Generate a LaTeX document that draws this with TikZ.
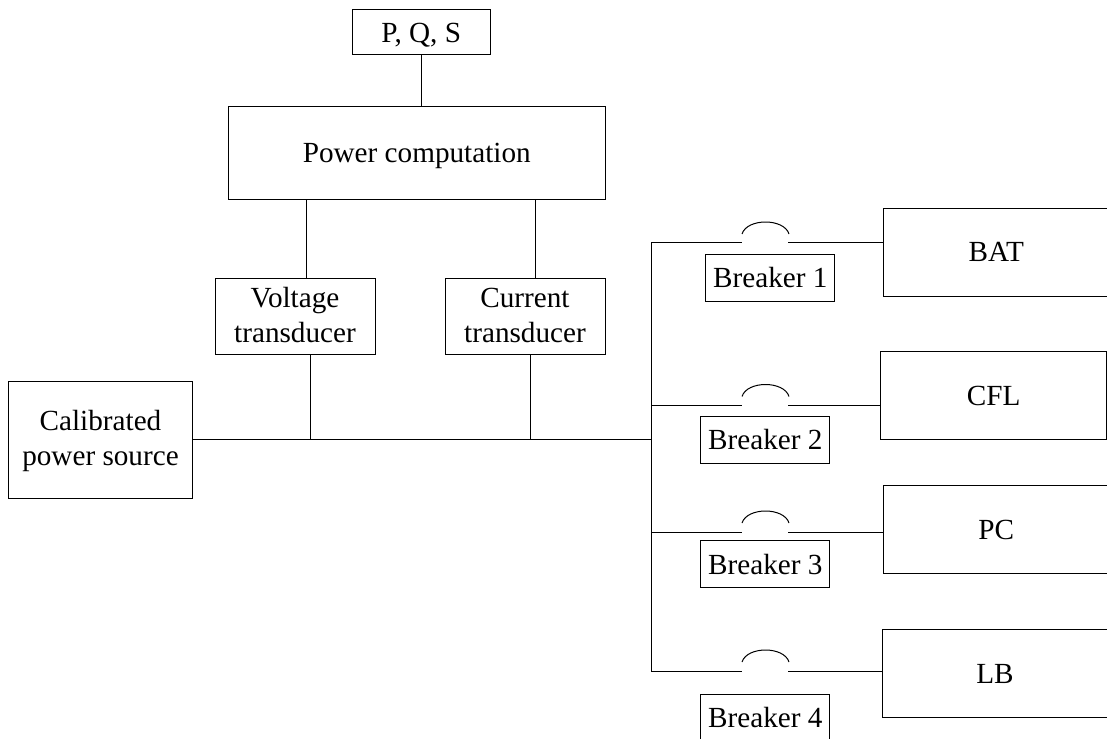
\documentclass[tikz,border=0pt]{standalone}
\usepackage{fontspec}
\setmainfont{Liberation Serif}
\tikzset{
    blockbox/.style={draw,line width=1pt,inner sep=0pt,outer sep=0pt,align=center,
        text height=19.4pt,text depth=0pt,font=\fontsize{29.2}{35}\selectfont},
    twolinebox/.style={blockbox,text height=52pt},
    breakerbox/.style={blockbox,minimum width=129.3pt,minimum height=47pt},
    loadbox/.style={blockbox,minimum width=226pt,minimum height=88pt},
    wire/.style={line width=1pt}
}

\begin{document}
\begin{tikzpicture}[x=1pt,y=-1pt]
    \useasboundingbox (0,0) rectangle (1107,738);
    \node[blockbox,minimum width=137.5pt,minimum height=45pt] (pqs) at (421.25,32.5) {P, Q, S};
    \node[blockbox,minimum width=376.5pt,minimum height=92pt] (power) at (416.75,153) {Power computation};
    \node[twolinebox,minimum width=160pt,minimum height=76pt] (voltage) at (295,316) {Voltage\\transducer};
    \node[twolinebox,minimum width=160pt,minimum height=76pt] (current) at (525,316) {Current\\transducer};
    \node[twolinebox,minimum width=184pt,minimum height=117pt] (source) at (100.5,439.5) {Calibrated\\power source};
    \node[loadbox] (bat) at (996.3,252) {BAT};
    \node[loadbox] (cfl) at (993.7,395.5) {CFL};
    \node[loadbox] (pc) at (996.3,529.8) {PC};
    \node[loadbox] (lb) at (995,673.3) {LB};
    \node[breakerbox] (brk1) at (770.3,277.5) {Breaker 1};
    \node[breakerbox] (brk2) at (765.3,439.7) {Breaker 2};
    \node[breakerbox] (brk3) at (765.3,564.3) {Breaker 3};
    \node[breakerbox] (brk4) at (765.3,717.5) {Breaker 4};
    % tap points
    \coordinate (vup) at (306,199);
    \coordinate (iup) at (535.7,199);
    \coordinate (vtap) at (310,439.6);
    \coordinate (itap) at (530,439.6);
    \coordinate (bus) at (651.3,439.6);
    \coordinate (bus1) at (651.3,242.7);
    \coordinate (bus2) at (651.3,405.3);
    \coordinate (bus3) at (651.3,532.3);
    \coordinate (bus4) at (651.3,671);
    \draw[wire](pqs.south)--(pqs.south|-power.north);
    \draw[wire](vup)--(vup|-voltage.north);
    \draw[wire](iup)--(iup|-current.north);
    \draw[wire](vtap|-voltage.south)--(vtap);
    \draw[wire](itap|-current.south)--(itap);
    \draw[wire](source.east|-bus)--(bus);
    \draw[wire](bus1)--(bus4);
    % breaker 1
    \coordinate (in1) at (742,242.7);
    \coordinate (out1) at (788,242.7);
    \coordinate (arca1) at (742,234);
    \coordinate (arcb1) at (789,234);
    \draw[wire](bus1)--(in1);
    \draw[wire](out1)--(out1-|bat.west);
    \draw[wire](arca1).. controls +(5,-16) and +(-5,-16) ..(arcb1);
    % breaker 2
    \coordinate (in2) at (742,405.3);
    \coordinate (out2) at (788,405.3);
    \coordinate (arca2) at (742,396.5);
    \coordinate (arcb2) at (789,396.5);
    \draw[wire](bus2)--(in2);
    \draw[wire](out2)--(out2-|cfl.west);
    \draw[wire](arca2).. controls +(5,-16) and +(-5,-16) ..(arcb2);
    % breaker 3
    \coordinate (in3) at (742,532.3);
    \coordinate (out3) at (788,532.3);
    \coordinate (arca3) at (742,523);
    \coordinate (arcb3) at (789,523);
    \draw[wire](bus3)--(in3);
    \draw[wire](out3)--(out3-|pc.west);
    \draw[wire](arca3).. controls +(5,-16) and +(-5,-16) ..(arcb3);
    % breaker 4
    \coordinate (in4) at (742,671);
    \coordinate (out4) at (788,671);
    \coordinate (arca4) at (742,662);
    \coordinate (arcb4) at (789,662);
    \draw[wire](bus4)--(in4);
    \draw[wire](out4)--(out4-|lb.west);
    \draw[wire](arca4).. controls +(5,-16) and +(-5,-16) ..(arcb4);
\end{tikzpicture}
\end{document}
